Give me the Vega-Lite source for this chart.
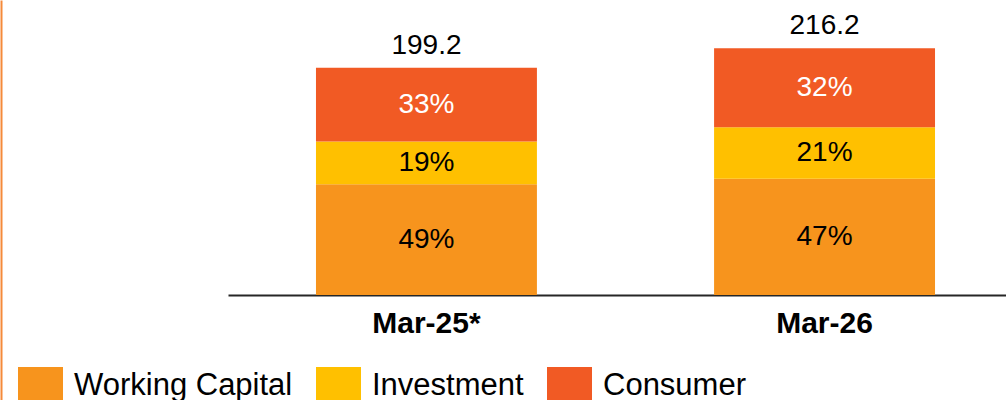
{
  "$schema": "https://vega.github.io/schema/vega-lite/v6.json",
  "width": 778,
  "height": 400,
  "autosize": {"type": "none"},
  "padding": {"left": 228, "top": 0, "right": 0, "bottom": 0},
  "background": "white",
  "config": {"view": {"stroke": null}, "font": "Liberation Sans"},
  "data": {
    "values": [
      {"period": "Mar-25*", "segment": "Working Capital", "value": 97.1, "label": "49%"},
      {"period": "Mar-25*", "segment": "Investment", "value": 37.4, "label": "19%"},
      {"period": "Mar-25*", "segment": "Consumer", "value": 64.7, "label": "33%"},
      {"period": "Mar-26", "segment": "Working Capital", "value": 101.8, "label": "47%"},
      {"period": "Mar-26", "segment": "Investment", "value": 45.3, "label": "21%"},
      {"period": "Mar-26", "segment": "Consumer", "value": 69.1, "label": "32%"}
    ]
  },
  "encoding": {
    "x": {
      "field": "period",
      "type": "nominal",
      "sort": null,
      "scale": {"range": [0, 795], "paddingInner": 0.445, "paddingOuter": 0.221},
      "axis": {
        "orient": "bottom",
        "offset": -105,
        "title": null,
        "labelAngle": 0,
        "labelFontSize": 30,
        "labelFontWeight": "bold",
        "labelColor": "black",
        "labelPadding": 13,
        "ticks": false,
        "tickSize": 0,
        "domainColor": "#262626",
        "domainWidth": 2,
        "grid": false
      }
    }
  },
  "layer": [
    {
      "mark": {"type": "bar"},
      "encoding": {
        "y": {
          "field": "value",
          "type": "quantitative",
          "stack": "zero",
          "scale": {"domain": [-92, 258.5], "nice": false, "zero": false},
          "axis": {
            "orient": "left",
            "offset": 227,
            "domainColor": "#F58A3A",
            "domainWidth": 2,
            "labels": false,
            "ticks": false,
            "grid": false,
            "title": null
          }
        },
        "order": {"field": "segment", "sort": "descending"},
        "color": {
          "field": "segment",
          "type": "nominal",
          "scale": {
            "domain": ["Working Capital", "Investment", "Consumer"],
            "range": ["#F7941D", "#FFC000", "#F15A24"]
          },
          "legend": {
            "orient": "none",
            "legendX": -210,
            "legendY": 367,
            "direction": "horizontal",
            "columns": 3,
            "title": null,
            "symbolType": "square",
            "symbolSize": 2025,
            "symbolStrokeWidth": 0,
            "symbolOpacity": 1,
            "labelFontSize": 31,
            "labelColor": "black",
            "labelOffset": 11,
            "columnPadding": 23,
            "padding": 0,
            "labelLimit": 400,
            "encode": {"labels": {"update": {"dy": {"value": -4}}}}
          }
        }
      }
    },
    {
      "mark": {"type": "text", "fontSize": 28, "baseline": "middle", "align": "center"},
      "encoding": {
        "y": {"field": "value", "type": "quantitative", "stack": "zero", "bandPosition": 0.5},
        "detail": {"field": "segment"},
        "order": {"field": "segment", "sort": "descending"},
        "text": {"field": "label"},
        "color": {
          "condition": {"test": "datum.segment === 'Consumer'", "value": "white"},
          "value": "black"
        }
      }
    },
    {
      "transform": [
        {"aggregate": [{"op": "sum", "field": "value", "as": "total"}], "groupby": ["period"]}
      ],
      "mark": {"type": "text", "fontSize": 28, "baseline": "alphabetic", "align": "center", "dy": -14, "color": "black"},
      "encoding": {
        "y": {"field": "total", "type": "quantitative"},
        "text": {"field": "total", "format": ".1f"}
      }
    }
  ]
}
